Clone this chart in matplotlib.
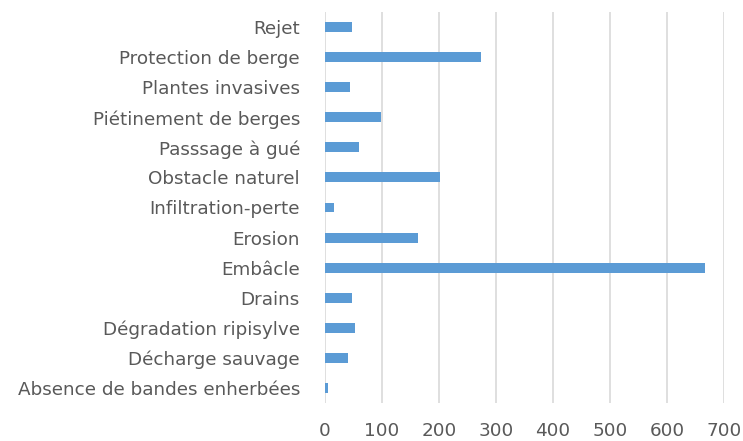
import matplotlib.pyplot as plt

categories = ['Absence de bandes enherbées', 'Décharge sauvage', 'Dégradation ripisylve',
              'Drains', 'Embâcle', 'Erosion', 'Infiltration-perte', 'Obstacle naturel',
              'Passsage à gué', 'Piétinement de berges', 'Plantes invasives',
              'Protection de berge', 'Rejet']
values = [5, 40, 53, 47, 666, 164, 16, 201, 60, 98, 43, 274, 47]
xticks = [0, 100, 200, 300, 400, 500, 600, 700]

plt.rcParams['font.family'] = ['DejaVu Sans']

fig = plt.figure(figsize=(7.43, 4.41), dpi=100)
ax = fig.add_axes([325/743, 1-403/441, (724-325)/743, (403-12)/441])

ax.barh(range(len(categories)), values, height=0.33, color='#5b9bd5', zorder=3)

ax.set_xlim(0, 700)
ax.set_ylim(-0.5, len(categories)-0.5)
ax.set_xticks(xticks)
ax.set_yticks(range(len(categories)))
ax.set_yticklabels(categories)
ax.grid(axis='x', color='#d9d9d9', linewidth=1.2, zorder=0)
for s in ax.spines.values():
    s.set_visible(False)
ax.tick_params(axis='both', length=0, labelsize=13.2, colors='#595959')
ax.tick_params(axis='x', pad=14)
ax.tick_params(axis='y', pad=18)

fig.savefig('out.png', dpi=100)
